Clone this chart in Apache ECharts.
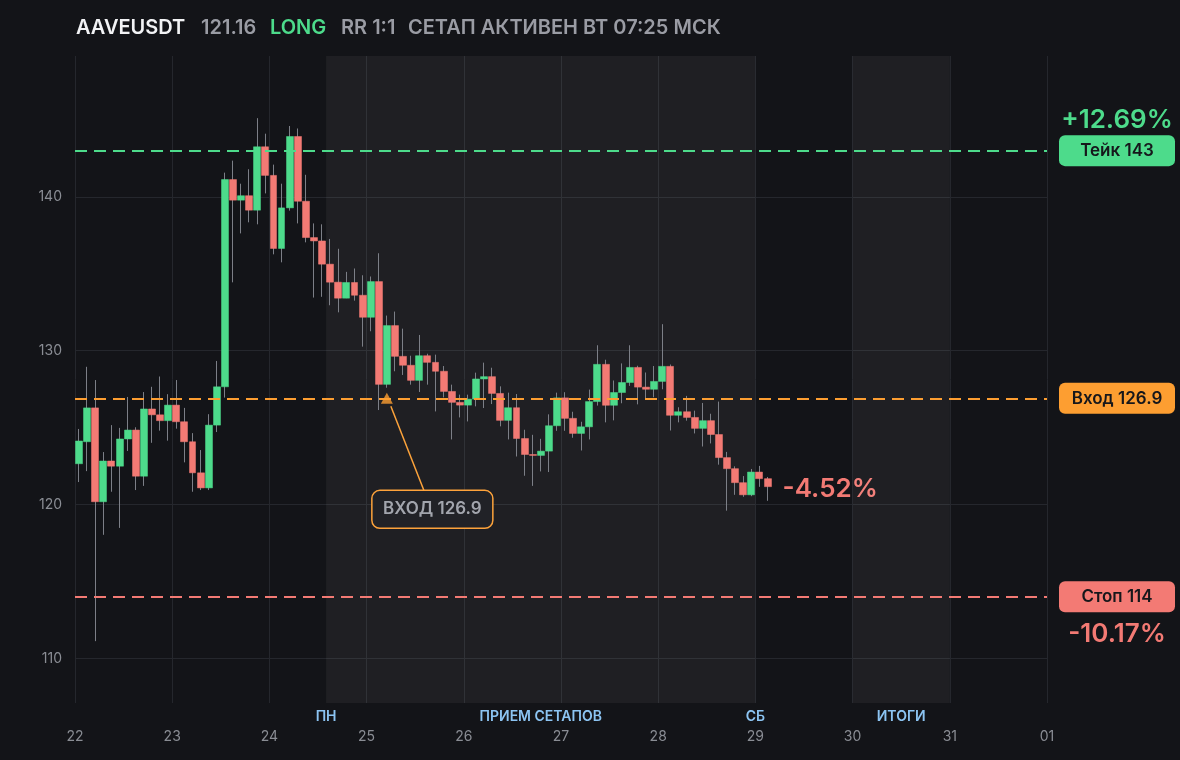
<!DOCTYPE html>
<html>
<head>
<meta charset="utf-8">
<script src="https://cdn.jsdelivr.net/npm/echarts@6/dist/echarts.min.js"></script>
<style>
html,body{margin:0;padding:0;background:#131418;}
#c{width:1180px;height:760px;}
</style>
</head>
<body>
<div id="c"></div>
<script>
// ---------- data ----------
const ticker = 'AAVEUSDT';
const lastPriceText = '121.16';
const sideText = 'LONG';
const rrText = 'RR 1:1';
const statusText = 'СЕТАП АКТИВЕН ВТ 07:25 МСК';

const dayLabels = ['22','23','24','25','26','27','28','29','30','31','01'];
const yTickValues = [110, 120, 130, 140];
const candleStepHours = 2; // 2h candles, starting 22 00:00

const opens  = [122.65,124.08,126.28,120.18,122.83,122.49,124.26,124.84,121.84,126.21,125.83,125.45,126.46,125.38,124.08,122.06,121.08,125.16,127.65,141.12,139.78,140.07,139.13,143.25,141.39,136.64,139.28,143.92,139.71,137.35,137.13,135.62,134.45,133.41,134.43,133.60,132.17,134.49,127.81,131.63,129.63,129.05,128.07,129.67,129.24,128.66,127.35,126.64,126.46,126.85,128.16,128.31,127.22,125.47,126.29,124.29,123.25,123.19,123.47,125.12,126.93,125.60,124.62,125.05,126.69,129.11,126.45,127.28,127.93,128.91,127.63,127.49,128.00,128.98,125.80,126.03,125.66,124.95,125.45,124.55,123.05,122.33,121.42,120.63,122.11,121.68];
const closes = [124.13,126.28,120.18,122.83,122.49,124.26,124.84,121.84,126.21,125.83,125.45,126.46,125.38,124.08,122.06,121.08,125.16,127.65,141.12,139.78,140.07,139.13,143.25,141.39,136.64,139.28,143.92,139.71,137.35,137.13,135.62,134.45,133.41,134.43,133.60,132.17,134.49,127.81,131.63,129.63,129.05,128.07,129.67,129.24,128.66,127.35,126.64,126.46,126.85,128.16,128.31,127.22,125.47,126.29,124.29,123.25,123.19,123.47,125.12,126.93,125.60,124.62,125.05,126.69,129.11,126.45,127.28,127.93,128.91,127.63,127.49,128.00,128.98,125.80,126.03,125.66,124.95,125.45,124.55,123.05,122.33,121.42,120.63,122.11,121.68,121.16];
const lows   = [121.46,122.17,111.12,118.03,120.83,118.48,123.48,120.94,121.21,124.01,124.80,124.15,124.93,122.74,120.83,120.94,120.94,124.71,126.95,134.44,137.62,138.34,138.21,140.22,136.26,135.74,139.10,138.27,137.04,133.45,133.50,132.95,132.49,133.41,133.25,130.26,131.26,126.14,127.59,128.66,128.42,127.79,127.31,127.79,126.05,126.96,124.23,125.66,125.40,126.38,126.27,126.53,125.08,124.23,123.12,121.87,121.21,122.15,122.11,124.79,124.79,124.34,123.51,124.23,126.43,125.34,125.47,126.58,127.71,126.51,126.80,126.97,127.49,124.81,125.34,125.45,124.62,123.77,123.97,122.59,119.60,120.63,120.50,120.54,121.15,120.24];
const highs  = [124.91,128.95,128.09,123.41,125.16,124.98,126.99,125.02,127.31,127.65,128.32,127.17,128.09,126.28,124.64,123.54,125.87,129.33,141.57,142.35,140.85,141.79,145.11,144.10,142.09,140.85,144.60,144.44,141.43,138.27,138.21,137.26,136.62,135.12,135.34,134.90,134.82,136.33,132.28,132.54,131.43,129.67,131.02,129.80,129.74,129.00,127.79,127.14,127.14,128.57,129.22,128.89,127.68,127.27,127.18,124.86,124.53,124.27,125.86,127.27,127.30,126.03,125.38,127.47,130.35,129.41,128.06,129.17,130.35,129.02,128.58,129.00,131.72,129.10,126.32,127.06,126.10,126.60,125.90,126.69,123.42,122.48,121.85,122.31,122.51,121.79];

const takePrice = 143;
const entryPrice = 126.9;
const stopPrice = 114;
const entryHour = 77;           // entry marker time (hours from 22 00:00)
const takeLabel = 'Тейк 143';
const entryLabel = 'Вход 126.9';
const stopLabel = 'Стоп 114';
const entryNote = 'ВХОД 126.9';

const periodNames  = ['ПРИЕМ СЕТАПОВ', 'ИТОГИ'];
const periodStarts = [62, 192];
const periodEnds   = [168, 216];
const edgeNames = ['ПН', 'СБ'];
const edgeHours = [62, 168];

// ---------- style ----------
const FONT = 'Inter, "Noto Sans", sans-serif';
const BG = '#131418';
const GREEN = '#4ddb8b';
const RED = '#f37a74';
const ORANGE = '#fd9e31';
const WICK = '#7c7f87';
const GRID = '#25272d';
const AXIS_TXT = '#8a8d94';
const HEAD_GRAY = '#9a9ca4';
const BLUE = '#8cc4f2';
const Y_MIN = 107.1, Y_MAX = 149.15;

const candleX = i => candleStepHours * i + 1;
const wickData = opens.map((o, i) => [candleX(i), o, closes[i], lows[i], highs[i]]);
const bodyData = opens.map((o, i) => [candleX(i), o, closes[i], Math.min(o, closes[i]), Math.max(o, closes[i])]);

const chart = echarts.init(document.getElementById('c'));

const option = {
  backgroundColor: BG,
  animation: false,
  grid: { left: 75, right: 133, top: 56, bottom: 57 },
  xAxis: {
    type: 'value', min: 0, max: 240, interval: 24,
    axisLine: { show: false }, axisTick: { show: false },
    axisLabel: { color: AXIS_TXT, fontSize: 14, fontFamily: FONT, margin: 27,
      formatter: v => dayLabels[Math.round(v / 24)] },
    splitLine: { show: true, lineStyle: { color: GRID, width: 1 } }
  },
  yAxis: {
    type: 'value', min: Y_MIN, max: Y_MAX, scale: true,
    axisLine: { show: false },
    axisTick: { show: false, customValues: yTickValues },
    axisLabel: { customValues: yTickValues, color: AXIS_TXT, fontSize: 14, fontFamily: FONT, margin: 13 },
    splitLine: { show: true, lineStyle: { color: GRID, width: 1 } }
  },
  series: [
    {
      type: 'line', data: [], z: 1, silent: true,
      markArea: {
        silent: true,
        itemStyle: { color: 'rgba(255,255,255,0.05)' },
        label: { show: false },
        data: periodStarts.map((s, i) => [{ xAxis: s }, { xAxis: periodEnds[i] }])
      }
    },
    {
      type: 'candlestick', name: 'wick', z: 3, silent: true,
      encode: { x: 0, y: [1, 2, 3, 4] },
      barWidth: 1,
      itemStyle: { color: WICK, color0: WICK, borderColor: WICK, borderColor0: WICK, borderWidth: 1 },
      data: wickData
    },
    {
      type: 'candlestick', name: 'body', z: 4, silent: true,
      encode: { x: 0, y: [1, 2, 3, 4] },
      barWidth: 7.4,
      itemStyle: { color: GREEN, color0: RED, borderColor: GREEN, borderColor0: RED, borderWidth: 0.5 },
      data: bodyData
    },
    {
      type: 'line', data: [], z: 5, silent: true,
      markLine: {
        silent: true, symbol: ['none', 'none'], label: { show: false },
        lineStyle: { type: [12, 7], width: 2 },
        data: [
          { yAxis: takePrice, lineStyle: { color: GREEN } },
          { yAxis: entryPrice, lineStyle: { color: ORANGE } },
          { yAxis: stopPrice, lineStyle: { color: RED } }
        ]
      }
    },
    {
      type: 'scatter', z: 6, silent: true,
      symbol: 'triangle', symbolSize: [12, 11],
      itemStyle: { color: ORANGE },
      data: [[entryHour, entryPrice]]
    }
  ]
};
chart.setOption(option);

// ---------- overlays positioned through the chart's scales ----------
const px = (x, y) => chart.convertToPixel({ gridIndex: 0 }, [x, y]);
const pct = p => { const v = (p - entryPrice) / entryPrice * 100; return (v >= 0 ? '+' : '') + v.toFixed(2) + '%'; };
const lastClose = closes[closes.length - 1];
const lastX = candleX(closes.length - 1);

const g = [];
// header
const headY = 28;
const headItems = [
  [ticker, 76, '#f2f3f5'],
  [lastPriceText, 201, HEAD_GRAY],
  [sideText, 270, GREEN],
  [rrText, 341, HEAD_GRAY],
  [statusText, 408, HEAD_GRAY]
];
headItems.forEach(h => g.push({ type: 'text', x: h[1], y: headY, silent: true,
  style: { text: h[0], fill: h[2], fontSize: 20, fontWeight: 600, fontFamily: FONT, align: 'left', verticalAlign: 'middle' } }));

// period labels below plot
const bottomY = px(0, Y_MIN)[1];
periodNames.forEach((n, i) => {
  const xm = (px(periodStarts[i], Y_MIN)[0] + px(periodEnds[i], Y_MIN)[0]) / 2;
  g.push({ type: 'text', x: xm, y: bottomY + 14, silent: true,
    style: { text: n, fill: BLUE, fontSize: 14, fontWeight: 600, fontFamily: FONT, align: 'center', verticalAlign: 'middle' } });
});
edgeNames.forEach((n, i) => {
  g.push({ type: 'text', x: px(edgeHours[i], Y_MIN)[0], y: bottomY + 14, silent: true,
    style: { text: n, fill: BLUE, fontSize: 14, fontWeight: 600, fontFamily: FONT, align: 'center', verticalAlign: 'middle' } });
});

// right badges
const rightX = px(240, Y_MIN)[0];
const badgeX = rightX + 12, badgeW = 116, badgeH = 31;
[[takePrice, takeLabel, GREEN], [entryPrice, entryLabel, ORANGE], [stopPrice, stopLabel, RED]].forEach(b => {
  const y = px(0, b[0])[1];
  g.push({ type: 'rect', silent: true, shape: { x: badgeX, y: y - badgeH / 2, width: badgeW, height: badgeH, r: 6 }, style: { fill: b[2] } });
  g.push({ type: 'text', x: badgeX + badgeW / 2, y: y + 0.5, silent: true,
    style: { text: b[1], fill: '#16171b', fontSize: 17, fontWeight: 600, fontFamily: FONT, align: 'center', verticalAlign: 'middle' } });
});
g.push({ type: 'text', x: badgeX + badgeW / 2, y: px(0, takePrice)[1] - 30, silent: true,
  style: { text: pct(takePrice), fill: GREEN, fontSize: 26, fontWeight: 600, fontFamily: FONT, align: 'center', verticalAlign: 'middle' } });
g.push({ type: 'text', x: badgeX + badgeW / 2, y: px(0, stopPrice)[1] + 37, silent: true,
  style: { text: pct(stopPrice), fill: RED, fontSize: 26, fontWeight: 600, fontFamily: FONT, align: 'center', verticalAlign: 'middle' } });

// current result next to last candle
const lp = px(lastX, lastClose);
g.push({ type: 'text', x: lp[0] + 15, y: lp[1] + 2.5, silent: true,
  style: { text: pct(parseFloat(lastPriceText)), fill: RED, fontSize: 26, fontWeight: 600, fontFamily: FONT, align: 'left', verticalAlign: 'middle' } });

// entry annotation
const ep = px(entryHour, entryPrice);
g.push({ type: 'line', silent: true, shape: { x1: ep[0] + 4, y1: ep[1] + 8, x2: ep[0] + 37, y2: ep[1] + 92 },
  style: { stroke: ORANGE, lineWidth: 1.5 } });
g.push({ type: 'rect', silent: true, shape: { x: ep[0] - 15, y: ep[1] + 92, width: 121, height: 38, r: 8 },
  style: { fill: '#16171c', stroke: ORANGE, lineWidth: 1.5 } });
g.push({ type: 'text', x: ep[0] - 15 + 60.5, y: ep[1] + 111, silent: true,
  style: { text: entryNote, fill: '#9ea1a9', fontSize: 17, fontWeight: 600, fontFamily: FONT, align: 'center', verticalAlign: 'middle' } });

chart.setOption({ graphic: g });
</script>
</body>
</html>
